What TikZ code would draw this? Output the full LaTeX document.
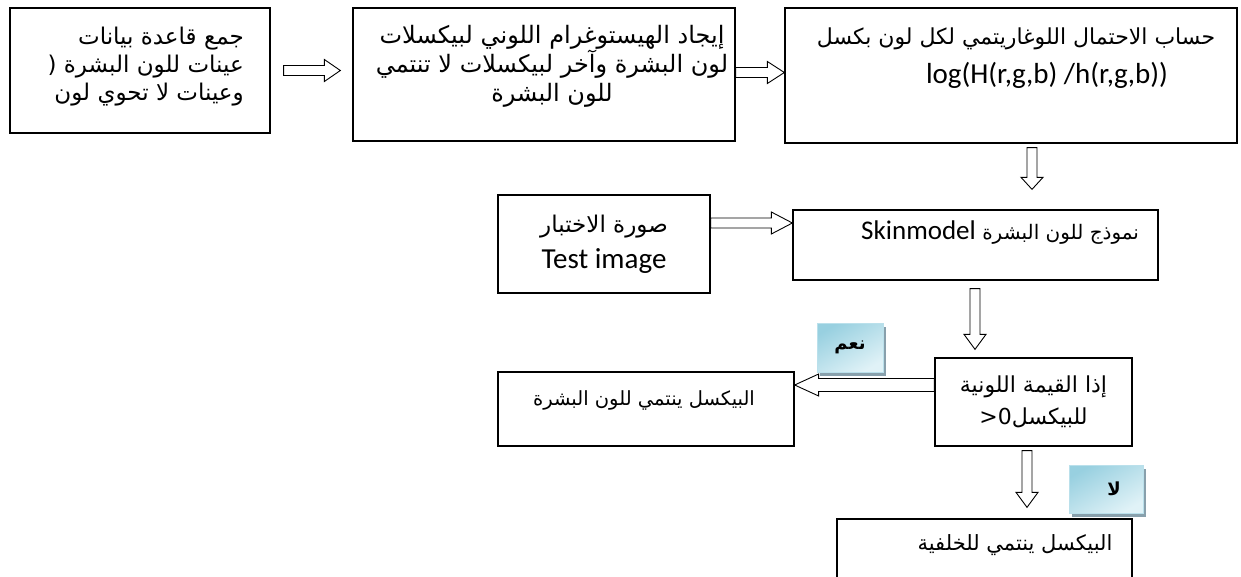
\documentclass[tikz,border=0pt]{standalone}
\usepackage{fontspec}
\setmainfont{Liberation Sans}
\newfontfamily\arabicfont[Script=Arabic]{DejaVu Sans}
\newfontfamily\latinfont{Carlito}
\TeXXeTstate=1
\definecolor{labelblue}{RGB}{152, 208, 224}
\definecolor{labellight}{RGB}{224, 242, 247}
\definecolor{labelborder}{RGB}{186, 224, 235}
\definecolor{labelshadow}{RGB}{136, 160, 172}
\usetikzlibrary{calc, shadows, backgrounds}
\newcommand{\artext}[1]{{\arabicfont\beginR #1\endR}}
\newcommand{\lat}[2][29]{{\latinfont\fontsize{#1}{34}\selectfont #2}}

\begin{document}
\begin{tikzpicture}[
    x=1pt, y=-1pt,
    stepbox/.style={
        rectangle, draw=black, line width=1.3pt, inner sep=0pt,
        align=center, font=\arabicfont\fontsize{22}{32}\selectfont
    },
    boxtext/.style={
        inner sep=0pt, align=center, font=\arabicfont\fontsize{22}{29}\selectfont
    },
    answer/.style={
        rectangle, draw=labelborder, line width=0.8pt, inner sep=0pt,
        top color=labelblue, bottom color=labellight, shading angle=30,
        drop shadow={shadow xshift=3pt, shadow yshift=-4pt, fill=labelshadow, opacity=1},
        font=\arabicfont\bfseries\fontsize{18}{22}\selectfont
    },
    shaftw/.store in=\shaftw, shaftw=5pt,
    headw/.store in=\headw, headw=11pt,
    headlen/.store in=\headlen, headlen=15pt,
    blockarrow/.style={
        draw=black, fill=white, line width=0.9pt, line join=miter,
        to path={($(\tikztostart)!\shaftw!90:(\tikztotarget)$)
            -- ($(\tikztotarget)!\headlen!(\tikztostart)!\shaftw!90:(\tikztotarget)$)
            -- ($(\tikztotarget)!\headlen!(\tikztostart)!\headw!90:(\tikztotarget)$)
            -- (\tikztotarget)
            -- ($(\tikztotarget)!\headlen!(\tikztostart)!\headw!-90:(\tikztotarget)$)
            -- ($(\tikztotarget)!\headlen!(\tikztostart)!\shaftw!-90:(\tikztotarget)$)
            -- ($(\tikztostart)!\shaftw!-90:(\tikztotarget)$) -- cycle}
    }
]
\useasboundingbox (0,0) rectangle (1241,577);

% Nodes
\node[stepbox, minimum width=260, minimum height=125] (dbase) at (140,70.5) {};
\node[boxtext, align=right, anchor=east, font=\arabicfont\fontsize{23}{28}\selectfont] (dbase-txt) at (244,67)
    {\artext{جمع قاعدة بيانات}\\\artext{عينات للون البشرة (}\\\artext{وعينات لا تحوي لون}};

\node[stepbox, minimum width=382, minimum height=133] (histo) at (544,74.5) {};
\node[boxtext, font=\arabicfont\fontsize{24}{29}\selectfont] (histo-txt) at (552,66)
    {\artext{إيجاد الهيستوغرام اللوني لبيكسلات}\\\artext{لون البشرة وآخر لبيكسلات لا تنتمي}\\\artext{للون البشرة}};

\node[stepbox, minimum width=452, minimum height=135] (logprob) at (1011,75.5) {};
\node[boxtext] (logprob-txt) at (1016,39) {\artext{حساب الاحتمال اللوغاريتمي لكل لون بكسل}};
\node[boxtext] (logprob-eq) at (1047,75) {\lat{log(H(r,g,b) /h(r,g,b))}};

\node[stepbox, minimum width=212, minimum height=98, font=\arabicfont\fontsize{23}{32}\selectfont] (testimg) at (604,244)
    {\artext{صورة الاختبار}\\[4pt]\lat{Test image}};

\node[stepbox, minimum width=365, minimum height=70] (skinmodel) at (975.5,245) {};
\node[boxtext, anchor=west, font=\arabicfont\fontsize{20}{29}\selectfont] (skinmodel-txt) at (861,233)
    {\artext{نموذج للون البشرة \beginL\lat[27]{Skinmodel}\endL}};

\node[stepbox, minimum width=197, minimum height=88] (decide) at (1033.5,402)
    {\artext{إذا القيمة اللونية}\\\artext{للبيكسل\beginL 0<\endL}};

\node[stepbox, minimum width=296, minimum height=74] (skinpix) at (646,409) {};
\node[boxtext, font=\arabicfont\fontsize{19.5}{29}\selectfont] (skinpix-txt) at (644,400) {\artext{البيكسل ينتمي للون البشرة}};

\node[stepbox, minimum width=295, minimum height=81] (bgpix) at (984.5,559.5) {};
\node[boxtext, font=\arabicfont\fontsize{21}{29}\selectfont] (bgpix-txt) at (1015,545) {\artext{البيكسل ينتمي للخلفية}};

% Connections
\begin{scope}[on background layer]
\fill[white] (0,0) rectangle (1241,577);
\draw[blockarrow, headlen=16pt] ($(dbase.east)+(13,0)$) to ($(dbase.east -| histo.west)+(-12,0)$);
\draw[blockarrow, headlen=17pt] ($(histo.east)+(0,-2)$) to ($(histo.east -| logprob.west)+(0,-2)$);
\draw[blockarrow, headlen=12pt] ($(logprob.south)+(21,4)$) to ($(skinmodel.north)+(56.5,-20)$);
\draw[blockarrow, headlen=21pt] ($(testimg.east)+(0,-21)$) to ($(skinmodel.west)+(0,-22)$);
\draw[blockarrow] ($(skinmodel.south)+(-0.5,8)$) to ($(decide.north)+(-58.5,-8)$);
\draw[blockarrow, shaftw=6.5pt, headlen=24pt] ($(decide.west)+(0,-17)$) to ($(skinpix.east)+(0,-24)$);
\draw[blockarrow] ($(decide.south)+(-6.5,4)$) to ($(bgpix.north)+(42.5,-11)$);
\end{scope}

% Answers
\node[answer, minimum width=66, minimum height=49] (yes) at (850,347.5) {\artext{نعم}};
\node[answer, minimum width=74, minimum height=48] (no) at (1106,489) {\hspace*{16pt}\artext{لا}};

\end{tikzpicture}
\end{document}
